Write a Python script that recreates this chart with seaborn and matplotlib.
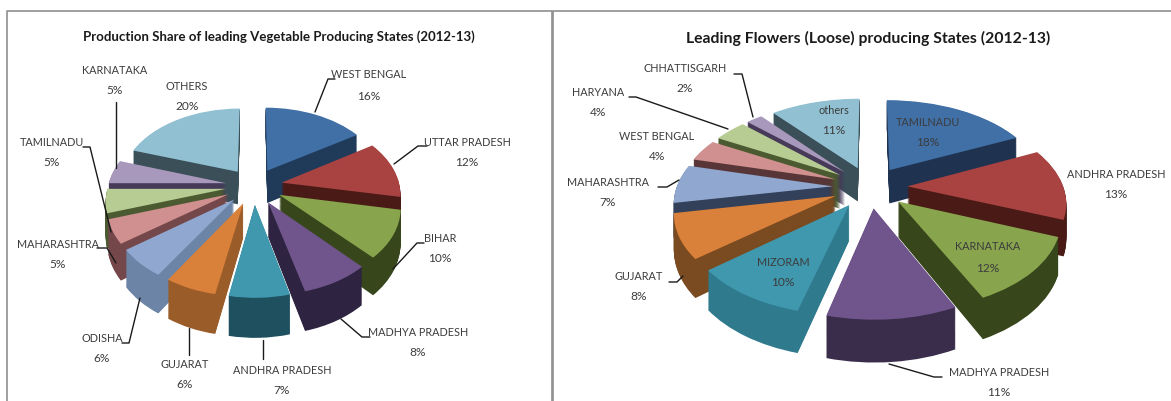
import numpy as np
import matplotlib
matplotlib.use('Agg')
import matplotlib.pyplot as plt
from matplotlib.transforms import Transform
import seaborn as sns

sns.set_theme(style='white')
plt.rcParams['font.family'] = ['Lato', 'DejaVu Sans']

W, H = 1171, 401

# Vegetable chart data
veg_states = ['WEST BENGAL', 'UTTAR PRADESH', 'BIHAR', 'MADHYA PRADESH', 'ANDHRA PRADESH', 'GUJARAT',
              'ODISHA', 'MAHARASHTRA', 'TAMILNADU', 'KARNATAKA', 'OTHERS']
veg_share = [16, 12, 10, 8, 7, 6, 6, 5, 5, 5, 20]

# Flower chart data
flower_states = ['TAMILNADU', 'ANDHRA PRADESH', 'KARNATAKA', 'MADHYA PRADESH', 'MIZORAM', 'GUJARAT',
                 'MAHARASHTRA', 'WEST BENGAL', 'HARYANA', 'CHHATTISGARH', 'others']
flower_share = [18, 13, 12, 11, 10, 8, 7, 4, 4, 2, 11]

top_colors = sns.color_palette(['#4070a6', '#a84341', '#88a44d', '#6f558c', '#4098ae', '#d9803a',
                                '#90a8d0', '#d09090', '#b6cc92', '#a898bc', '#90c0d2'])
veg_sides = ['#203a5a', '#4a1a17', '#38461c', '#2e2340', '#1f5060', '#9a5c28',
             '#6c84a6', '#74484a', '#4b5a30', '#463a58', '#3a4f58']
flower_sides = ['#1f3350', '#4a1a17', '#38461c', '#3a2d4c', '#2f7a8d', '#7a4a20',
                '#33405a', '#583638', '#4b5a30', '#463a58', '#3a4f58']


class Tilt(Transform):
    # perspective for a pie lying on its back, drop pushes a layer down the side walls
    input_dims = 2
    output_dims = 2
    is_separable = False

    def __init__(self, k, drop=0.0):
        super().__init__()
        self.k = k
        self.drop = drop

    def transform_non_affine(self, values):
        values = np.asarray(values)
        w = 1 + self.k * values[:, 1]
        return np.column_stack([values[:, 0] / w, (values[:, 1] - self.drop) / w])


fig = plt.figure(figsize=(W / 100, H / 100), dpi=100, facecolor='white')


def draw_pie(values, sides, cx, cy, sx, sy, k, depth, steps):
    ax = fig.add_axes([0, 0, 1, 1])
    explode = [0.24] * len(values)
    for i in range(steps, -1, -1):
        colors = sides if i > 0 else top_colors
        wedges, _ = ax.pie(values, colors=colors, explode=explode, startangle=90, counterclock=False,
                           wedgeprops={'linewidth': 0})
        for w in wedges:
            w.set_transform(Tilt(k, depth * i / steps) + ax.transData)
    ax.set_aspect('auto')
    ax.set_xlim(-cx / sx, (W - cx) / sx)
    ax.set_ylim((cy - H) / sy, cy / sy)
    ax.patch.set_alpha(0)
    return ax


draw_pie(veg_share, veg_sides, 254, 186, 118, 75.2, 0.134, 0.444, 40)
draw_pie(flower_share, flower_sides, 870, 187, 156, 86, 0.159, 0.40, 44)

# overlay in pixel coordinates for frames, text and leader lines
over = fig.add_axes([0, 0, 1, 1])
over.set_xlim(0, W)
over.set_ylim(H, 0)
over.axis('off')
over.patch.set_alpha(0)

over.plot([7, 7, 552, 552], [401, 11, 11, 401], color='#8f8f8f', lw=1.2)
over.plot([553, 553, 1171], [401, 11, 11], color='#8f8f8f', lw=1.2)

over.text(279, 37, 'Production Share of leading Vegetable Producing States (2012-13)',
          ha='center', va='center', fontsize=9.5, fontweight='bold', color='#1a1a1a')
over.text(868, 38, 'Leading Flowers (Loose) producing States (2012-13)',
          ha='center', va='center', fontsize=11.3, fontweight='bold', color='#1a1a1a')

veg_label_pos = [(369, 75, 96), (467, 142, 162), (440, 239, 259), (418, 332, 352), (282, 371, 391),
                 (185, 364, 385), (102, 338, 358), (58, 244, 264), (52, 142, 162), (115, 71, 91), (187, 87, 107)]
flower_label_pos = [(928, 122, 142), (1116, 175, 195), (988, 247, 268), (999, 372, 392), (783, 262, 283),
                    (639, 277, 297), (608, 182, 203), (657, 137, 157), (598, 92, 112), (685, 69, 89), (834, 110, 130)]

for names, shares, positions in [(veg_states, veg_share, veg_label_pos),
                                 (flower_states, flower_share, flower_label_pos)]:
    for name, share, (x, y1, y2) in zip(names, shares, positions):
        over.text(x, y1, name, ha='center', va='center', fontsize=7.8, color='#3c3c3c')
        over.text(x, y2, f'{share}%', ha='center', va='center', fontsize=8.6, color='#3c3c3c')

leaders = [
    [(335, 79), (328, 79), (315, 112)], [(427, 146), (418, 146), (394, 164)],
    [(424, 243), (417, 243), (393, 269)], [(370, 337), (362, 337), (341, 319)],
    [(263, 359), (263, 340)], [(189, 355), (189, 328)],
    [(122, 343), (129, 343), (140, 298)], [(97, 248), (107, 248), (116, 263)],
    [(83, 147), (90, 147), (111, 232)], [(116, 102), (116, 168)],
    [(734, 74), (742, 74), (753, 117)], [(629, 97), (636, 97), (728, 129)],
    [(658, 187), (667, 187), (679, 180)], [(669, 282), (677, 282), (683, 276)],
    [(942, 377), (934, 377), (889, 364)],
]
for pts in leaders:
    over.plot([p[0] for p in pts], [p[1] for p in pts], color='#1a1a1a', lw=1)

fig.savefig('out.png', dpi=100)
